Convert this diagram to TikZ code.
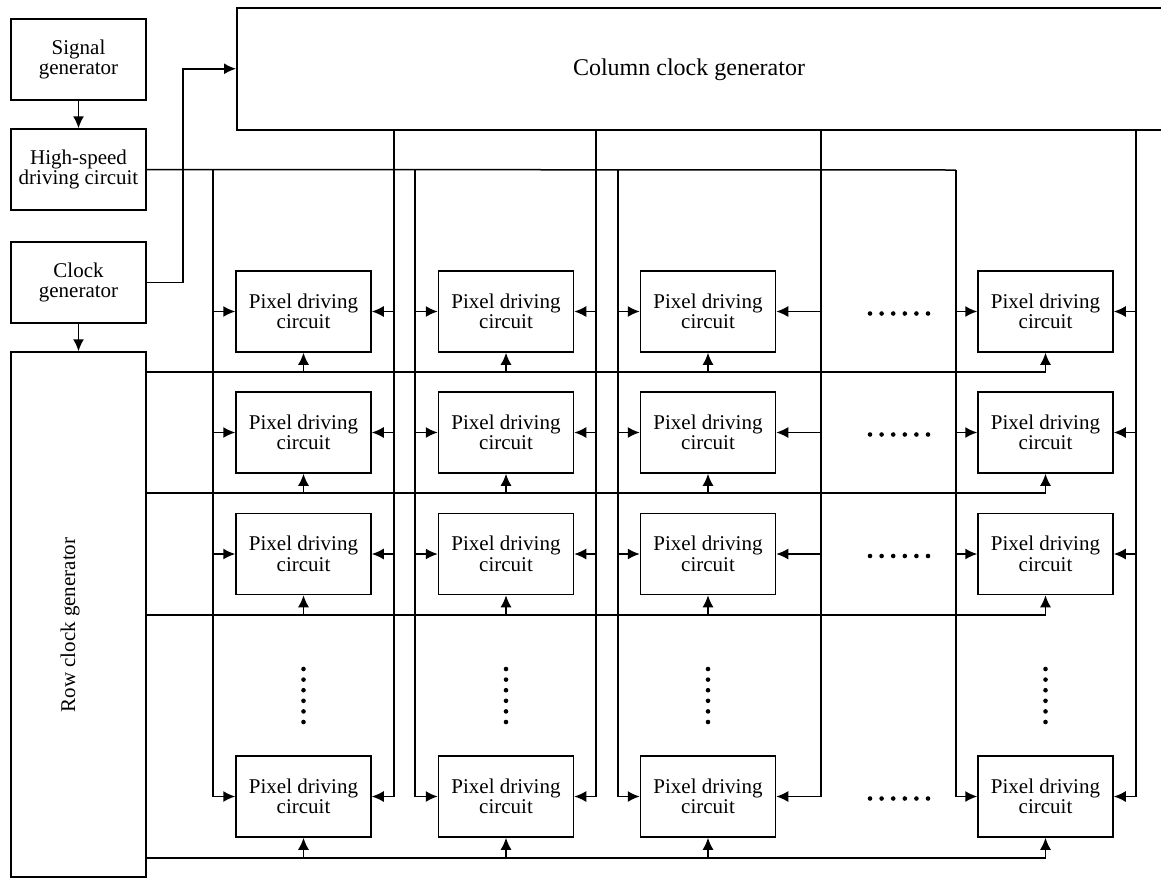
\documentclass[tikz,border=0pt]{standalone}
\usepackage{fontspec}
\setmainfont{Liberation Serif}
\usetikzlibrary{arrows.meta}

\begin{document}
\begin{tikzpicture}[
    x=1pt, y=-1pt,
    line width=1.5pt,
    font=\fontsize{21}{20.5}\selectfont,
    block/.style={rectangle, draw, align=center, inner sep=0pt, minimum width=135, minimum height=81},
    pixel/.style={block},
    arrow/.style={-{Latex[length=12pt, width=11pt]}}
]
    \useasboundingbox (0,0) rectangle (1161,879);

    % Generators
    \node [block] (sig) at (78.5,59.5) {Signal\\generator};
    \node [block] (hsd) at (78.5,169.5) {High-speed\\driving circuit};
    \node [block] (clk) at (78.5,282.5) {Clock\\generator};
    \node [block, minimum height=525] (row) at (78.5,614.5) {};
    \node [rotate=90] (rowtxt) at (70,625) {Row clock generator};
    \node [block, anchor=north west, minimum width=940, minimum height=122] (col) at (236,7) {};
    \node [font=\fontsize{24}{24}\selectfont] (coltxt) at (689,70) {Column clock generator};

    % Pixel driving circuits
    \node [pixel] (p11) at (303.5,311.5) {Pixel driving\\circuit};
    \node [pixel] (p12) at (506,311.5) {Pixel driving\\circuit};
    \node [pixel] (p13) at (708,311.5) {Pixel driving\\circuit};
    \node [pixel] (p14) at (1045.5,311.5) {Pixel driving\\circuit};
    \node [pixel] (p21) at (303.5,432.5) {Pixel driving\\circuit};
    \node [pixel] (p22) at (506,432.5) {Pixel driving\\circuit};
    \node [pixel] (p23) at (708,432.5) {Pixel driving\\circuit};
    \node [pixel] (p24) at (1045.5,432.5) {Pixel driving\\circuit};
    \node [pixel] (p31) at (303.5,554) {Pixel driving\\circuit};
    \node [pixel] (p32) at (506,554) {Pixel driving\\circuit};
    \node [pixel] (p33) at (708,554) {Pixel driving\\circuit};
    \node [pixel] (p34) at (1045.5,554) {Pixel driving\\circuit};
    \node [pixel] (p41) at (303.5,796.5) {Pixel driving\\circuit};
    \node [pixel] (p42) at (506,796.5) {Pixel driving\\circuit};
    \node [pixel] (p43) at (708,796.5) {Pixel driving\\circuit};
    \node [pixel] (p44) at (1045.5,796.5) {Pixel driving\\circuit};

    % Bus tap points
    \coordinate (bl1) at (213,170);
    \coordinate (bl2) at (415,170);
    \coordinate (bl3) at (618,170);
    \coordinate (bl4) at (956,170);
    \coordinate (br1) at (394,129);
    \coordinate (br2) at (596,129);
    \coordinate (br3) at (821,129);
    \coordinate (br4) at (1136,129);
    \coordinate (r1) at (146,372);
    \coordinate (r2) at (146,493);
    \coordinate (r3) at (146,615);
    \coordinate (r4) at (146,858);

    % Generator arrows
    \draw [arrow] (sig) -- (hsd);
    \draw [arrow] (clk) -- (row);
    \draw [arrow] (clk.east) -- ++(36,0) |- (col.west);

    % Column buses
    \draw (hsd.east) -- (bl4);
    \foreach \c in {1,2,3,4} {
        \draw [arrow] (bl\c) |- (p4\c.west);
        \draw [arrow] (br\c) |- (p4\c.east);
        \foreach \r in {1,2,3} {
            \draw [arrow] (p\r\c.west -| bl\c) -- (p\r\c.west);
            \draw [arrow] (p\r\c.east -| br\c) -- (p\r\c.east);
        }
    }

    % Row buses
    \foreach \r in {1,2,3,4} {
        \draw [arrow] (r\r) -| (p\r4.south);
        \foreach \c in {1,2,3}
            \draw [arrow] (p\r\c.south |- r\r) -- (p\r\c.south);
    }

    % Dots
    \foreach \y in {313.5,434.5,556,798.5}
        \foreach \i in {0,...,5}
            \fill (870+11.6*\i,\y) circle (2.3);
    \foreach \x in {303.5,506,708,1045.5}
        \foreach \i in {0,...,5}
            \fill (\x,669+10.6*\i) circle (2.3);
\end{tikzpicture}
\end{document}
